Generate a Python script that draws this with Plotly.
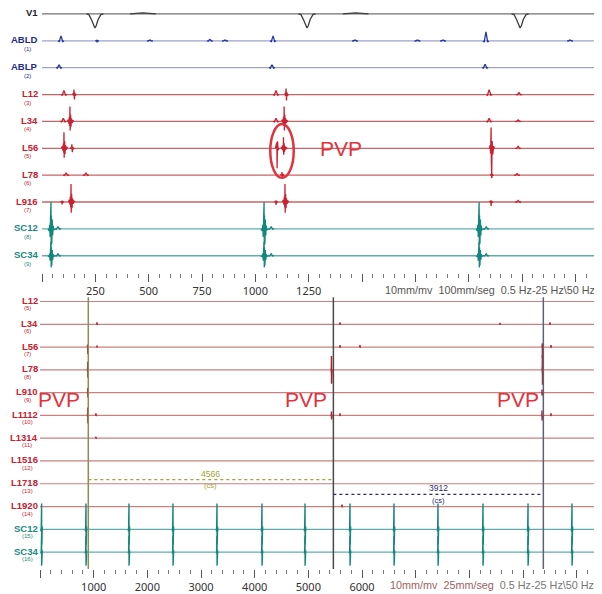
import plotly.graph_objects as go

# ---------------------------------------------------------------- data
top_channels = ["V1", "ABLD", "ABLP", "L12", "L34", "L56", "L78", "L916", "SC12", "SC34"]
top_channel_nums = ["", "(1)", "(2)", "(3)", "(4)", "(5)", "(6)", "(7)", "(8)", "(9)"]
top_tick_vals = [0, 250, 500, 750, 1000, 1250, 1500, 1750, 2000, 2250, 2500]
top_tick_labels = ["", "250", "500", "750", "1000", "1250", "", "", "", "", ""]

bottom_channels = ["L12", "L34", "L56", "L78", "L910", "L1112", "L1314",
                   "L1516", "L1718", "L1920", "SC12", "SC34"]
bottom_channel_nums = ["(5)", "(6)", "(7)", "(8)", "(9)", "(10)", "(11)",
                       "(12)", "(13)", "(14)", "(15)", "(16)"]
bottom_tick_vals = [0, 1000, 2000, 3000, 4000, 5000, 6000, 7000, 8000, 9000, 10000]
bottom_tick_labels = ["", "1000", "2000", "3000", "4000", "5000", "6000", "", "", "", ""]

top_end_ms = 2625
bottom_end_ms = 10471

# waveform templates (offset in ms, normalised amplitude)
TPL_DT = {
    "qrs":  [-40, -28, -15, -5, 0, 6, 15, 28, 40],
    "twav": [-60, -30, 0, 30, 60],
    "bump": [-14, -8, -3, 0, 3, 8, 14],
    "spk":  [-8, -4, -2, 0, 2, 4, 7, 11],
    "frac": [-12, -8, -5, -3, -1, 0, 1, 3, 5, 7, 10, 14, 18],
    "neg":  [-8, -4, -1, 0, 2, 5, 9],
    "big":  [-8, -4, -2, 0, 1, 3, 5, 8, 12, 16],
    "sc":   [-14, -9, -6, -4, -2, -1, 0, 1, 2, 4, 6, 8, 10, 13, 18],
    "sc2":  [-14, -9, -6, -4, -2, -1, 0, 1, 2, 4, 6, 8, 10, 13, 18],
    "dot":  [-6, -2, 0, 3, 7],
}
TPL_V = {
    "qrs":  [0, -0.05, -0.45, -0.9, -1.0, -0.85, -0.4, -0.05, 0],
    "twav": [0, 0.6, 1, 0.6, 0],
    "bump": [0, -0.15, 0.6, 1, 0.6, -0.15, 0],
    "spk":  [0, 0.15, -0.2, 1, -1, 0.35, -0.15, 0],
    "frac": [0, 0.12, -0.15, 0.3, -0.3, 1, -0.6, 0.45, -0.35, 0.2, -0.1, 0.05, 0],
    "neg":  [0, 0.15, 0.3, -1, 0.35, -0.1, 0],
    "big":  [0, 0.15, -0.25, 1, -0.4, -1.3, 0.35, -0.3, 0.1, 0],
    "sc":   [0, -0.08, 0.15, -0.3, 0.45, -0.4, 1, -0.6, 0.5, -0.55, 0.35, -0.25, 0.12, -0.05, 0],
    "sc2":  [0, -0.08, 0.15, -0.35, 0.5, -0.5, 1, -0.85, 0.6, -0.7, 0.4, -0.3, 0.12, -0.05, 0],
    "dot":  [0, 0.4, 1, -0.3, 0],
}

# ---- top recording (100 mm/s): (time ms, template, amplitude)
ev_top_v1 = [(248, "qrs", 14), (473, "twav", 1), (1242, "qrs", 14), (1470, "twav", 1), (2241, "qrs", 14)]
ev_top_abld = [(89, "bump", 5), (258, "neg", 1.5), (506, "bump", 1), (787, "bump", 1.5), (858, "bump", 1),
               (1083, "bump", 5), (1467, "bump", 1), (1760, "bump", 1), (1880, "bump", 1),
               (2081, "bump", 9), (2475, "bump", 1)]
ev_top_ablp = [(80, "bump", 3), (1078, "bump", 3), (2077, "bump", 3.5)]
ev_top_l12 = [(103, "bump", 4), (150, "spk", 5), (1097, "bump", 4), (1144, "spk", 6),
              (2096, "bump", 5), (2236, "bump", 2)]
ev_top_l34 = [(100, "bump", 3), (131, "frac", 15), (1097, "bump", 3), (1135, "frac", 15),
              (2096, "bump", 3), (2232, "bump", 1.5)]
ev_top_l56 = [(103, "frac", 16), (140, "spk", 4), (1102, "neg", 20), (1132, "frac", 11),
              (2105, "big", 21), (2232, "bump", 2)]
ev_top_l78 = [(113, "bump", 2), (206, "bump", 2), (1125, "spk", 3), (2108, "neg", 3), (2227, "bump", 1.5)]
ev_top_l916 = [(94, "neg", 2.5), (136, "frac", 18), (1097, "neg", 3), (1139, "frac", 18),
               (2105, "neg", 4), (2232, "bump", 1.5)]
ev_top_sc12 = [(42, "sc", 27), (75, "bump", 2), (1041, "sc", 27), (1074, "bump", 2), (2049, "sc", 27), (2082, "bump", 2)]
ev_top_sc34 = [(42, "sc2", 14), (75, "bump", 2), (1041, "sc2", 14), (1074, "bump", 2), (2049, "sc2", 14), (2082, "bump", 2)]

# ---- bottom recording (25 mm/s)
sc_beats_bottom = [30, 857, 1658, 2478, 3298, 4136, 4938, 5776, 6596, 7416, 8254, 9093, 9912]
ev_bot_l12 = []
ev_bot_l34 = [(1062, "dot", 2), (5590, "dot", 2), (8571, "dot", 1.5), (9502, "dot", 2)]
ev_bot_l56 = [(890, "neg", 7), (1062, "dot", 1.5), (5590, "dot", 2), (5962, "dot", 2), (9360, "neg", 11), (9521, "dot", 2)]
ev_bot_l78 = [(890, "spk", 8), (5430, "spk", 14), (9360, "spk", 15)]
ev_bot_l910 = [(890, "spk", 5), (9353, "spk", 3)]
ev_bot_l1112 = [(890, "spk", 8), (1043, "dot", 2), (5430, "spk", 4), (5590, "dot", 2), (9353, "spk", 5), (9521, "dot", 2)]
ev_bot_l1314 = [(1043, "dot", 1.5)]
ev_bot_l1516 = []
ev_bot_l1718 = []
ev_bot_l1920 = [(5627, "dot", 2)]
ev_bot_sc12 = [(t, "sc", 26) for t in sc_beats_bottom]
ev_bot_sc34 = [(t, "sc2", 16) for t in sc_beats_bottom]

# calipers (ms)
caliper_start = 900
caliper_intervals = [4566, 3912]
caliper_labels = ["4566", "3912"]

top_events = [ev_top_v1, ev_top_abld, ev_top_ablp, ev_top_l12, ev_top_l34, ev_top_l56,
              ev_top_l78, ev_top_l916, ev_top_sc12, ev_top_sc34]
bottom_events = [ev_bot_l12, ev_bot_l34, ev_bot_l56, ev_bot_l78, ev_bot_l910, ev_bot_l1112,
                 ev_bot_l1314, ev_bot_l1516, ev_bot_l1718, ev_bot_l1920, ev_bot_sc12, ev_bot_sc34]

# ---------------------------------------------------------------- layout helpers
# the page body keeps an 8px margin, so the figure is sized to fill the rest
OX, OY = 8, 8
W, H = 602 - OX, 594 - OY


def px_x(p):
    return (p - OX) / W


def px_y(p):
    return 1 - (p - OY) / H


TOP_PX = 27.0      # px between top channels
BOT_PX = 22.9      # px between bottom channels
TOP_Y0 = 14        # page px of first top channel
BOT_Y0 = 303       # page px of first bottom channel

STYLE = {
    "V1":  ("#707070", "#3c3c3c", "#222222"),
    "ABL": ("#9ea3c8", "#2535a5", "#1d2a8f"),
    "L":   ("#c96464", "#cc2030", "#c8202e"),
    "Lb":  ("#c98080", "#b81c2a", "#c8202e"),
    "SC":  ("#62abab", "#11877d", "#1a8a80"),
}


def style_key(name, bottom=False):
    if name == "V1":
        return "V1"
    if name.startswith("ABL"):
        return "ABL"
    if name.startswith("SC"):
        return "SC"
    return "Lb" if bottom else "L"


def build(events, idx, px):
    xs, ys = [], []
    for t, tpl, amp in sorted(events):
        for dt, v in zip(TPL_DT[tpl], TPL_V[tpl]):
            xs.append(t + dt)
            ys.append(idx - amp * v / px)
        xs.append(None)
        ys.append(None)
    return xs, ys


fig = go.Figure()
annotations = []

for i, (name, evs) in enumerate(zip(top_channels, top_events)):
    base_c, ev_c, lab_c = STYLE[style_key(name)]
    fig.add_trace(go.Scatter(x=[0, top_end_ms], y=[i, i], mode="lines",
                             line=dict(color=base_c, width=1.3), xaxis="x", yaxis="y",
                             hoverinfo="skip", showlegend=False))
    xs, ys = build(evs, i, TOP_PX)
    fig.add_trace(go.Scatter(x=xs, y=ys, mode="lines", line=dict(color=ev_c, width=1.3),
                             xaxis="x", yaxis="y", hoverinfo="skip", showlegend=False))

for i, (name, evs) in enumerate(zip(bottom_channels, bottom_events)):
    base_c, ev_c, lab_c = STYLE[style_key(name, True)]
    fig.add_trace(go.Scatter(x=[0, bottom_end_ms], y=[i, i], mode="lines",
                             line=dict(color=base_c, width=1.2), xaxis="x2", yaxis="y2",
                             hoverinfo="skip", showlegend=False))
    xs, ys = build(evs, i, BOT_PX)
    fig.add_trace(go.Scatter(x=xs, y=ys, mode="lines", line=dict(color=ev_c, width=1.4),
                             xaxis="x2", yaxis="y2", hoverinfo="skip", showlegend=False))

# channel labels
LAB_X = px_x(39.5)
NUM_X = px_x(27)
LAB_FONT = "Liberation Sans"
for i, (name, num) in enumerate(zip(top_channels, top_channel_nums)):
    lab_c = STYLE[style_key(name)][2]
    annotations.append(dict(x=LAB_X, xref="paper", y=i, yref="y", text=f"<b>{name}</b>",
                            xanchor="right", yanchor="middle", yshift=1, showarrow=False,
                            font=dict(size=9.5, color=lab_c, family=LAB_FONT)))
    if num:
        annotations.append(dict(x=NUM_X, xref="paper", y=i, yref="y", text=num,
                                xanchor="center", yanchor="middle", yshift=-8, showarrow=False,
                                font=dict(size=6, color=lab_c, family=LAB_FONT)))
for i, (name, num) in enumerate(zip(bottom_channels, bottom_channel_nums)):
    lab_c = STYLE[style_key(name, True)][2]
    annotations.append(dict(x=LAB_X, xref="paper", y=i, yref="y2", text=f"<b>{name}</b>",
                            xanchor="right", yanchor="middle", yshift=1, showarrow=False,
                            font=dict(size=9.5, color=lab_c, family=LAB_FONT)))
    annotations.append(dict(x=NUM_X, xref="paper", y=i, yref="y2", text=num,
                            xanchor="center", yanchor="middle", yshift=-7, showarrow=False,
                            font=dict(size=6, color=lab_c, family=LAB_FONT)))

# PVP labels
PVP_FONT = dict(size=21, color="#e2323c", family="Liberation Sans")
annotations.append(dict(x=1402, xref="x", y=5, yref="y", text="PVP", showarrow=False,
                        xanchor="center", yanchor="middle", font=PVP_FONT))
for xt in [354, 4956, 8906]:
    annotations.append(dict(x=xt, xref="x2", y=4.3, yref="y2", text="PVP", showarrow=False,
                            xanchor="center", yanchor="middle", font=PVP_FONT))

# recording settings text
annotations.append(dict(x=px_x(383), xref="paper", y=px_y(291), yref="paper", xanchor="left",
                        yanchor="middle", showarrow=False,
                        text="10mm/mv  100mm/seg  0.5 Hz-25 Hz\\50 Hz",
                        font=dict(size=10.8, color="#555555", family="Liberation Sans")))
annotations.append(dict(x=px_x(388), xref="paper", y=px_y(588), yref="paper", xanchor="left",
                        yanchor="middle", showarrow=False,
                        text="<span style='color:#a06060'>10mm/mv  25mm/seg</span>  0.5 Hz-25 Hz\\50 Hz",
                        font=dict(size=10.8, color="#777777", family="Liberation Sans")))

shapes = []
# ellipse around PVP in the top recording
shapes.append(dict(type="circle", xref="x", yref="y", x0=1070, x1=1180, y0=4.1, y1=6.1,
                   line=dict(color="#e2323c", width=2.5)))

# calipers
cal_pos = [caliper_start]
for d in caliper_intervals:
    cal_pos.append(cal_pos[-1] + d)
cal_colors = ["#8c8c55", "#4a4a4a", "#5c6378"]
for p, c in zip(cal_pos, cal_colors):
    shapes.append(dict(type="line", xref="x2", yref="y2 domain", x0=p, x1=p, y0=0, y1=0.99,
                       line=dict(color=c, width=1.5)))
cal_text_colors = ["#a2a238", "#2c2c72"]
cal_rows = [7.82, 8.47]
for k in range(len(caliper_intervals)):
    a, b = cal_pos[k], cal_pos[k + 1]
    c = cal_text_colors[k]
    r = cal_rows[k]
    shapes.append(dict(type="line", xref="x2", yref="y2", x0=a, x1=b, y0=r, y1=r,
                       line=dict(color=c, width=1.2, dash="dot")))
    annotations.append(dict(x=(a + b) / 2, xref="x2", y=r, yref="y2", text=caliper_labels[k],
                            showarrow=False, yshift=6, xanchor="center", yanchor="middle",
                            font=dict(size=8.5, color=c, family="Liberation Sans")))
    annotations.append(dict(x=(a + b) / 2, xref="x2", y=r, yref="y2", text="(cs)",
                            showarrow=False, yshift=-6, xanchor="center", yanchor="middle",
                            font=dict(size=7.5, color=c, family="Liberation Sans")))

AX_FONT = dict(size=11, color="#333333", family="Noto Sans")
fig.update_layout(
    width=W, height=H, margin=dict(l=0, r=0, t=0, b=0),
    paper_bgcolor="white", plot_bgcolor="white", showlegend=False,
    xaxis=dict(domain=[px_x(42), 1], range=[0, top_end_ms], anchor="y",
               tickmode="array", tickvals=top_tick_vals, ticktext=top_tick_labels,
               ticks="outside", ticklen=8, tickwidth=1, tickcolor="#555555",
               minor=dict(dtick=50, tick0=0, ticks="outside", ticklen=4, tickcolor="#777777"),
               showgrid=False, zeroline=False, showline=False, tickfont=AX_FONT),
    yaxis=dict(domain=[px_y(274), 1], range=[(274 - TOP_Y0) / TOP_PX, (OY - TOP_Y0) / TOP_PX],
               visible=False, anchor="x"),
    xaxis2=dict(domain=[px_x(40), 1], range=[0, bottom_end_ms], anchor="y2",
                tickmode="array", tickvals=bottom_tick_vals, ticktext=bottom_tick_labels,
                ticks="outside", ticklen=8, tickwidth=1, tickcolor="#555555",
                minor=dict(dtick=200, tick0=0, ticks="outside", ticklen=4, tickcolor="#777777"),
                showgrid=False, zeroline=False, showline=False, tickfont=AX_FONT),
    yaxis2=dict(domain=[px_y(572), px_y(296)],
                range=[(572 - BOT_Y0) / BOT_PX, (296 - BOT_Y0) / BOT_PX],
                visible=False, anchor="x2"),
    annotations=annotations, shapes=shapes,
)

fig.write_html("out.html")
